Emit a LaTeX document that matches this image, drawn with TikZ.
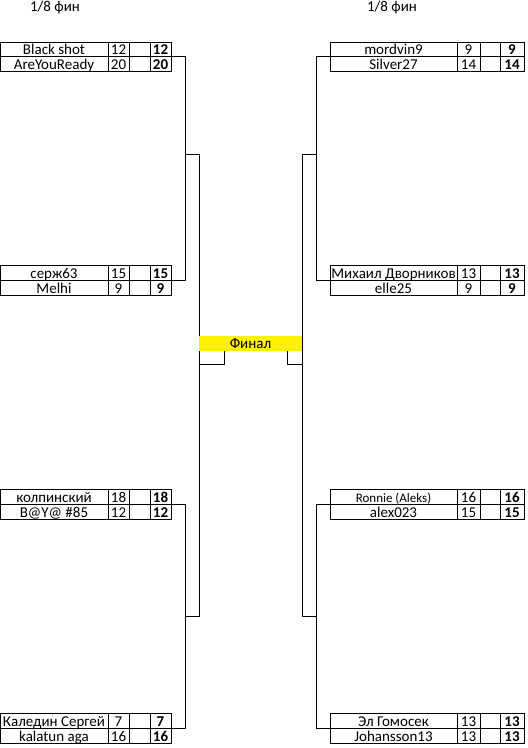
\documentclass[tikz,border=0pt]{standalone}
\usepackage{fontspec}
\setmainfont{Carlito}
\usetikzlibrary{positioning}

\begin{document}
\begin{tikzpicture}[x=1pt,y=-1pt,line width=0.9pt,
  font=\fontsize{15}{16}\selectfont,
  cell/.style={draw,anchor=north west,inner sep=0pt,outer sep=0pt,
    minimum height=14.9pt,text height=11.2pt,text depth=0.8pt},
  head/.style={anchor=base},
  final/.style={fill=yellow,inner sep=0pt,outer sep=0pt,
    minimum width=103pt,minimum height=15pt,text height=11.2pt,text depth=0.8pt}]
\useasboundingbox (0,0) rectangle (528,748);
% headers
\node[head] (hL) at (55,11) {1/8 фин};
\node[head] (hR) at (392,11) {1/8 фин};
% left side players
\foreach \id/\nm/\sc/\yy in {L1/Black shot/12/42, L2/AreYouReady/20/56.9,
    L3/серж63/15/265.5, L4/Melhi/9/280.4,
    L5/колпинский/18/489.5, L6/B@Y@ \#85/12/504.4,
    L7/Каледин Сергей/7/713.5, L8/kalatun aga/16/728.4} {
  \node[cell,minimum width=108pt] (n\id) at (0,\yy) {\nm};
  \node[cell,minimum width=21pt,right=0pt of n\id] (s\id) {\sc};
  \node[cell,minimum width=21pt,right=0pt of s\id] (e\id) {};
  \node[cell,minimum width=21pt,right=0pt of e\id,font=\fontsize{15}{16}\selectfont\bfseries] (w\id) {\sc};
}
% right side players
\foreach \id/\nm/\sc/\yy in {R1/mordvin9/9/42, R2/Silver27/14/56.9,
    R3/Михаил Дворников/13/265.5, R4/elle25/9/280.4,
    R5/{\fontsize{13}{14}\selectfont Ronnie (Aleks)}/16/489.5, R6/alex023/15/504.4,
    R7/Эл Гомосек/13/713.5, R8/Johansson13/13/728.4} {
  \node[cell,minimum width=127pt] (n\id) at (330,\yy) {\nm};
  \node[cell,minimum width=23pt,right=0pt of n\id] (s\id) {\sc};
  \node[cell,minimum width=20pt,right=0pt of s\id] (e\id) {};
  \node[cell,minimum width=24pt,right=0pt of e\id,font=\fontsize{15}{16}\selectfont\bfseries] (w\id) {\sc};
}
% brackets, left
\draw (wL1.south east) -- ++(14,0) coordinate (kL1) |- (wL3.south east);
\draw (wL5.south east) -- ++(14,0) coordinate (kL2) |- (wL7.south east);
\draw (kL1 |- 0,154) -- ++(14,0) coordinate (mL) |- (kL2 |- 0,616);
% brackets, right
\draw (nR1.south west) -- ++(-14,0) coordinate (kR1) |- (nR3.south west);
\draw (nR5.south west) -- ++(-14,0) coordinate (kR2) |- (nR7.south west);
\draw (kR1 |- 0,154) -- ++(-14,0) coordinate (mR) |- (kR2 |- 0,616);
% final
\node[final] (fin) at (250.5,343.5) {Финал};
\draw ([xshift=25pt]fin.south west) |- (mL |- 0,364);
\draw ([xshift=-15pt]fin.south east) |- (mR |- 0,364);
\end{tikzpicture}
\end{document}
